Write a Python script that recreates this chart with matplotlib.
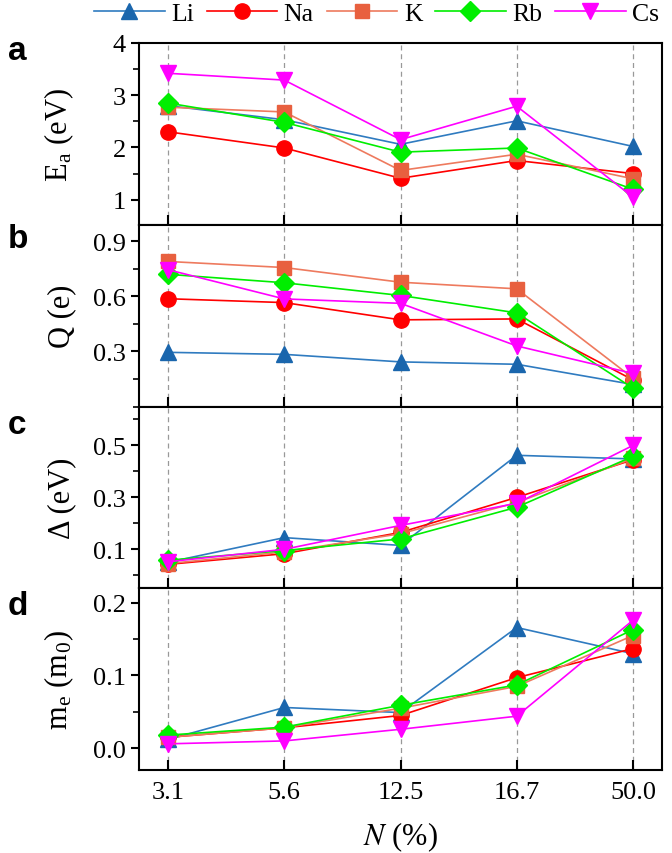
import matplotlib
matplotlib.use('Agg')
import matplotlib.pyplot as plt
import numpy as np

plt.rcParams['font.family'] = ['Liberation Serif', 'DejaVu Serif']
plt.rcParams['mathtext.fontset'] = 'stix'

# data
conc = ['3.1', '5.6', '12.5', '16.7', '50.0']
names = ['Li', 'Na', 'K', 'Rb', 'Cs']

Ea = {
    'Li': [2.80, 2.53, 2.06, 2.51, 2.02],
    'Na': [2.30, 1.99, 1.41, 1.75, 1.50],
    'K':  [2.77, 2.68, 1.56, 1.87, 1.40],
    'Rb': [2.85, 2.48, 1.91, 1.99, 1.20],
    'Cs': [3.42, 3.29, 2.15, 2.79, 1.05],
}
Q = {
    'Li': [0.295, 0.284, 0.243, 0.230, 0.12],
    'Na': [0.587, 0.566, 0.472, 0.477, 0.145],
    'K':  [0.790, 0.757, 0.677, 0.641, 0.155],
    'Rb': [0.720, 0.674, 0.605, 0.510, 0.10],
    'Cs': [0.745, 0.586, 0.562, 0.330, 0.18],
}
Delta = {
    'Li': [0.050, 0.145, 0.115, 0.462, 0.448],
    'Na': [0.042, 0.083, 0.165, 0.300, 0.445],
    'K':  [0.045, 0.090, 0.160, 0.280, 0.450],
    'Rb': [0.058, 0.095, 0.140, 0.262, 0.458],
    'Cs': [0.052, 0.100, 0.192, 0.277, 0.500],
}
me = {
    'Li': [0.012, 0.056, 0.049, 0.166, 0.130],
    'Na': [0.015, 0.028, 0.045, 0.097, 0.137],
    'K':  [0.015, 0.028, 0.055, 0.085, 0.155],
    'Rb': [0.018, 0.029, 0.059, 0.087, 0.163],
    'Cs': [0.006, 0.010, 0.026, 0.044, 0.176],
}

colors = {'Li': '#1a66ad', 'Na': '#ff0000', 'K': '#e8603f', 'Rb': '#00ee00', 'Cs': '#ff00ff'}
lcolors = {'Li': '#2f7bc0', 'Na': '#ff0000', 'K': '#ee7a5e', 'Rb': '#00ee00', 'Cs': '#ff00ff'}
markers = {'Li': '^', 'Na': 'o', 'K': 's', 'Rb': 'D', 'Cs': 'v'}
msizes = {'Li': 12, 'Na': 11, 'K': 10, 'Rb': 10, 'Cs': 12}

panels = [
    (Ea, r'E$_\mathregular{a}$ (eV)', (0.52, 4.0), [1, 2, 3, 4], 0.5, '%d', 'a'),
    (Q, 'Q (e)', (0.0, 0.99), [0.3, 0.6, 0.9], 0.15, '%.1f', 'b'),
    (Delta, u'\u0394 (eV)', (-0.05, 0.65), [0.1, 0.3, 0.5], 0.1, '%.1f', 'c'),
    (me, r'm$_\mathregular{e}$ (m$_\mathregular{0}$)', (-0.03, 0.22), [0.0, 0.1, 0.2], 0.05, '%.1f', 'd'),
]
letter_off = [8, 14, 18, 17]  # px below panel top

fig = plt.figure(figsize=(6.72, 8.54), dpi=100)
left, right, top, bottom = 139 / 672, 662 / 672, 1 - 44 / 854, 1 - 771 / 854
h = (top - bottom) / 4
x = np.arange(len(conc))

axes = []
for i, (data, ylab, ylim, yt, minor, fmt, letter) in enumerate(panels):
    ax = fig.add_axes([left, top - (i + 1) * h, right - left, h])
    axes.append(ax)
    for xi in x:
        ax.axvline(xi, color='#999999', ls=(0, (4, 3)), lw=0.9, zorder=0)
    for n in names:
        ax.plot(x, data[n], color=lcolors[n], lw=1.2, marker=markers[n],
                ms=msizes[n], mfc=colors[n], mec=colors[n], label=n, zorder=3)
    ax.set_xlim(-0.25, 4.25)
    ax.set_ylim(*ylim)
    ax.set_yticks(yt)
    ax.set_yticklabels([fmt % v for v in yt])
    ax.yaxis.set_minor_locator(matplotlib.ticker.MultipleLocator(minor))
    ax.set_xticks(x)
    ax.tick_params(axis='x', direction='in', length=7, width=1.5, labelsize=19, pad=8)
    ax.tick_params(axis='y', which='major', direction='out', length=6, width=1.5, labelsize=19)
    ax.tick_params(axis='y', which='minor', direction='out', length=4, width=1.2)
    for s in ax.spines.values():
        s.set_linewidth(1.5)
    ax.set_ylabel(ylab, fontsize=22)
    ax.yaxis.set_label_coords(-0.12, 0.5)
    if i < 3:
        ax.set_xticklabels([])
    else:
        ax.set_xticklabels(conc)
        ax.set_xlabel(r'$\it{N}$ (%)', fontsize=22, labelpad=12)
    fig.text(0.012, top - i * h - letter_off[i] / 854, letter, fontsize=24, fontweight='bold',
             family='Liberation Sans', va='center', ha='left')

handles, labels = axes[0].get_legend_handles_labels()
fig.legend(handles, labels, loc='upper right', bbox_to_anchor=(1.0, 1.012), ncol=5,
           frameon=False, fontsize=18.5, handlelength=2.75, columnspacing=0.5,
           handletextpad=0.25, borderaxespad=0.1)

fig.savefig('out.png', dpi=100)
